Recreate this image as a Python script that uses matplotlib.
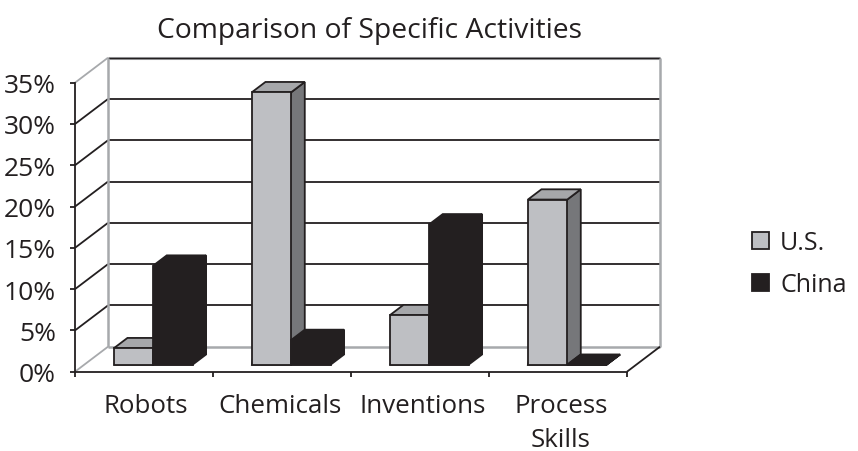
import matplotlib
matplotlib.use("Agg")
from matplotlib import pyplot as plt
from matplotlib.patches import Patch, Polygon
from matplotlib.transforms import ScaledTranslation

categories = ["Robots", "Chemicals", "Inventions", "Process\nSkills"]
us_values = [2, 33, 6, 20]
china_values = [12, 3, 17, 0]
y_ticks = [0, 5, 10, 15, 20, 25, 30, 35]

INK = "#231f20"
LIGHT = "#bebfc3"
TOP = "#a6a7aa"
SIDE = "#76777a"
WALL = "#a7a9ac"
LW = 1.3

W, H = 858, 452
LEFT, RIGHT, BOTTOM, TOP_PX = 75, 627, 372.7, 83.7

plt.rcParams["font.family"] = ["Open Sans", "DejaVu Sans"]
plt.rcParams["text.color"] = INK

fig = plt.figure(figsize=(W / 100, H / 100), dpi=100)
ax = fig.add_axes([LEFT / W, 1 - BOTTOM / H, (RIGHT - LEFT) / W, (BOTTOM - TOP_PX) / H])
ax.set_xlim(0, len(categories))
ax.set_ylim(0, 35)

# oblique depth, one unit of depth in data units
DX = 33 / ((RIGHT - LEFT) / len(categories))
DY = 25 / ((BOTTOM - TOP_PX) / 35)


def pt(x, y, d=0.0):
    return (x + d * DX, y + d * DY)


def wall_line(p, q, color=INK, lw=LW, z=1):
    ax.plot([p[0], q[0]], [p[1], q[1]], color=color, lw=lw, clip_on=False,
            solid_capstyle="butt", zorder=z)


def face(points, color, z):
    ax.add_patch(Polygon(points, closed=True, facecolor=color, edgecolor=INK,
                         lw=LW, joinstyle="miter", clip_on=False, zorder=z))


def bar3d(x0, w, h, front, top, side, z):
    d0, d1 = 0.28, 0.69
    face([pt(x0, 0, d0), pt(x0 + w, 0, d0), pt(x0 + w, 0, d1), pt(x0 + w, h, d1),
          pt(x0 + w, h, d0)], side, z)
    face([pt(x0, h, d0), pt(x0 + w, h, d0), pt(x0 + w, h, d1), pt(x0, h, d1)], top, z)
    face([pt(x0, 0, d0), pt(x0 + w, 0, d0), pt(x0 + w, h, d0), pt(x0, h, d0)], front, z)


n = len(categories)
for v in y_ticks[1:-1]:
    wall_line(pt(0, v), pt(0, v, 1))
    wall_line(pt(0, v, 1), pt(n, v, 1))
wall_line(pt(0, 35, 1), pt(n, 35, 1), color=WALL, lw=2.2)
wall_line(pt(0, 35, 1), pt(n, 35, 1), color=INK, lw=1.0)
wall_line(pt(0, 35), pt(0, 35, 1), color=WALL)
wall_line(pt(0, 0), pt(0, 0, 1), color=WALL)
wall_line(pt(0, 0, 1), pt(n, 0, 1), color=WALL, lw=1.8)
wall_line(pt(0, 0, 1), pt(0, 35, 1), color=WALL, lw=1.8)
wall_line(pt(n, 0, 1), pt(n, 35, 1), color=WALL, lw=1.8)
wall_line(pt(n, 0), pt(n, 0, 1))

BAR_W = 0.285
for i in range(n):
    x0 = i + 0.5 - BAR_W
    bar3d(x0, BAR_W, us_values[i], LIGHT, TOP, SIDE, 3 + i)
    bar3d(x0 + BAR_W, BAR_W, china_values[i], INK, INK, INK, 3 + i)

for side in ("top", "right"):
    ax.spines[side].set_visible(False)
for side in ("left", "bottom"):
    ax.spines[side].set_color(INK)
    ax.spines[side].set_linewidth(LW)

ax.set_yticks(y_ticks)
ax.set_yticklabels([f"{v}%" for v in y_ticks], fontsize=19, color=INK)
ax.tick_params(axis="y", length=3.6, width=LW, color=INK, pad=10)
ax.set_xticks(range(n + 1))
ax.set_xticklabels([])
ax.tick_params(axis="x", which="major", length=3.6, width=LW, color=INK)
ax.set_xticks([i + 0.5 for i in range(n)], minor=True)
ax.set_xticklabels(categories, minor=True, fontsize=18.6, color=INK, linespacing=1.44)
ax.tick_params(axis="x", which="minor", length=0, pad=15.5)

# the category labels sit a little off centre in the original
for label, nudge in zip(ax.get_xticklabels(minor=True), [2, -2, 3, 3]):
    label.set_transform(label.get_transform() + ScaledTranslation(nudge / 100, 0, fig.dpi_scale_trans))

fig.text(369.5 / W, 1 - 31 / H, "Comparison of Specific Activities", fontsize=20.3,
         ha="center", va="center", color=INK)

handles = [Patch(facecolor=LIGHT, edgecolor=INK, lw=LW, label="U.S."),
           Patch(facecolor=INK, edgecolor=INK, lw=LW, label="China")]
fig.legend(handles=handles, loc="center left", bbox_to_anchor=(752 / W, 1 - 265 / H),
           frameon=False, fontsize=18, handlelength=0.68, handleheight=0.68,
           handletextpad=0.45, labelspacing=0.68, labelcolor=INK,
           borderpad=0, borderaxespad=0)

fig.savefig("out.png", dpi=100)
